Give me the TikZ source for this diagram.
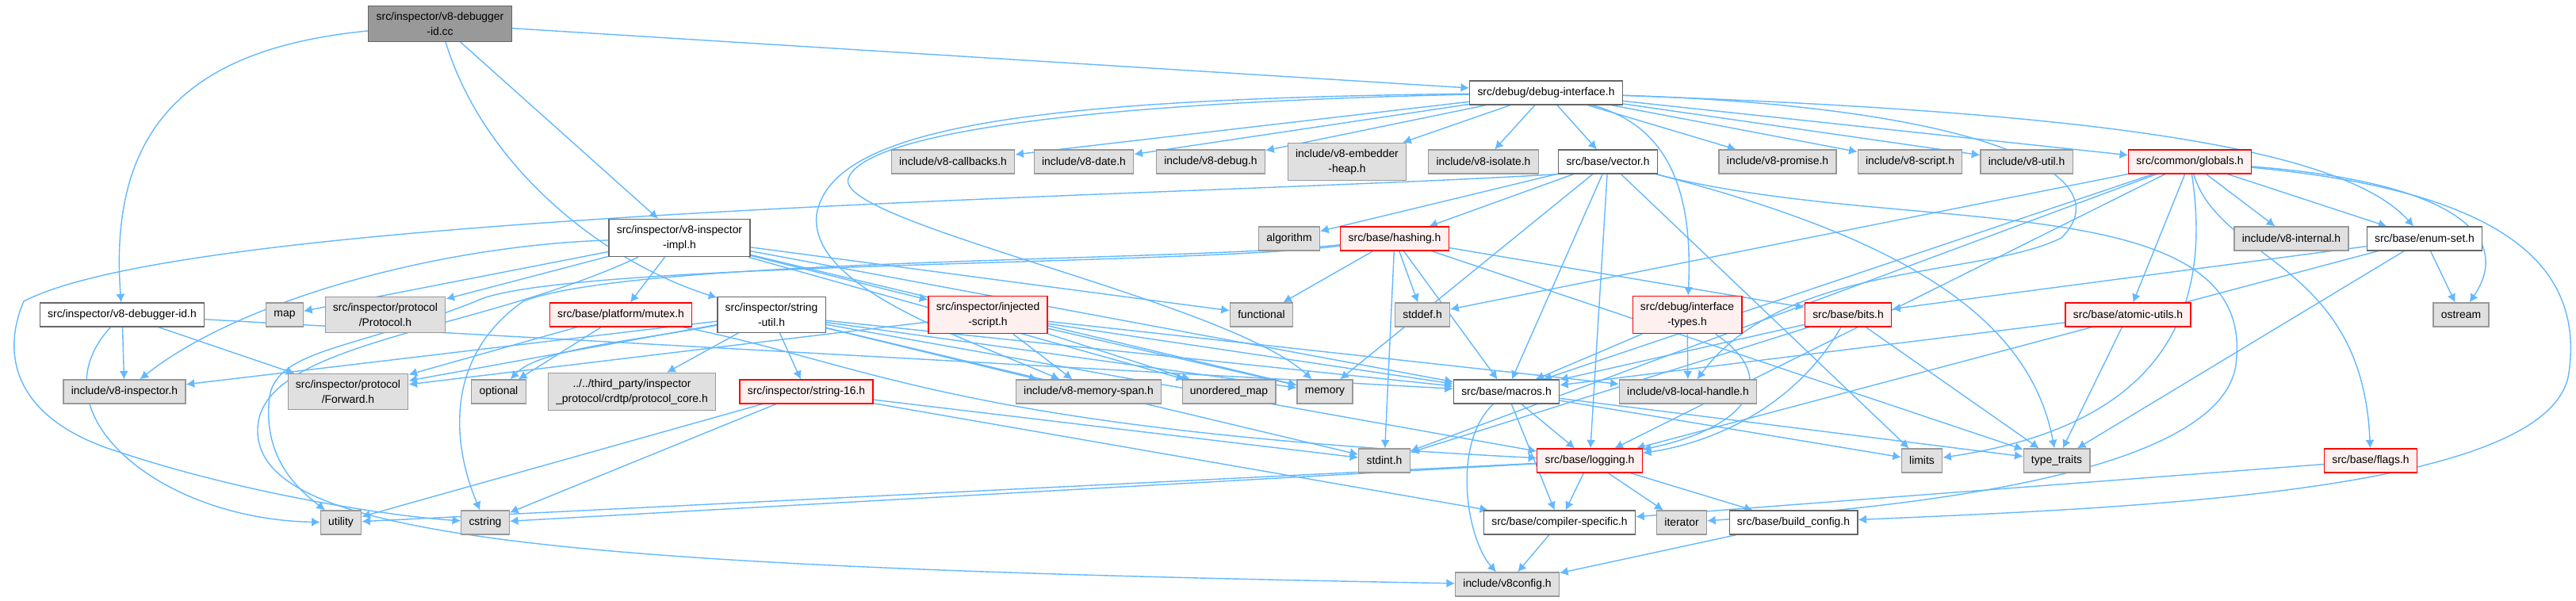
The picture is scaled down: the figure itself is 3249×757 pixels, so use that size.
\documentclass[tikz,border=0pt]{standalone}
\usepackage{fontspec}
\setmainfont{Liberation Sans}
\usetikzlibrary{arrows.meta}
\definecolor{edgeblue}{HTML}{63B8FF}
\definecolor{sysfill}{HTML}{E0E0E0}
\definecolor{sysline}{HTML}{999999}
\definecolor{fileline}{HTML}{666666}
\definecolor{truncfill}{HTML}{FFF0F0}
\pgfdeclarelayer{bg}
\pgfsetlayers{bg,main}
\tikzset{
  box/.style={draw, line width=0.35pt, align=center, minimum height=0.3cm,
    inner xsep=2.8pt, inner ysep=2.2pt, font=\fontsize{3.95}{5.4}\selectfont},
  sysbox/.style={box, draw=sysline, fill=sysfill},
  filebox/.style={box, draw=fileline, fill=white},
  truncbox/.style={box, draw=red, fill=truncfill},
  rootbox/.style={box, draw=fileline, fill=sysline},
  dep/.style={draw=edgeblue, line width=0.4pt, -{Latex[length=3pt,width=3.2pt]}}
}
\begin{document}
\begin{tikzpicture}[x=0.01cm, y=-0.01cm]
\useasboundingbox (0,0) rectangle (3249,757);
% rows, top to bottom
\node[rootbox] (root) at (555,30) {src/inspector/v8-debugger\\-id.cc};
\node[filebox] (dbgif) at (1950,117) {src/debug/debug-interface.h};

\node[sysbox] (callbacks) at (1202,204) {include/v8-callbacks.h};
\node[sysbox] (date) at (1367,204) {include/v8-date.h};
\node[sysbox] (v8debug) at (1527,204) {include/v8-debug.h};
\node[sysbox] (embedder) at (1699,204) {include/v8-embedder\\-heap.h};
\node[sysbox] (isolate) at (1871,204) {include/v8-isolate.h};
\node[filebox] (vector) at (2028,204) {src/base/vector.h};
\node[sysbox] (promise) at (2242,204) {include/v8-promise.h};
\node[sysbox] (script) at (2409,204) {include/v8-script.h};
\node[sysbox] (util) at (2556,204) {include/v8-util.h};
\node[truncbox] (globals) at (2762,204) {src/common/globals.h};

\node[filebox] (impl) at (857,300) {src/inspector/v8-inspector\\-impl.h};
\node[sysbox] (algorithm) at (1626,301) {algorithm};
\node[truncbox] (hashing) at (1759,301) {src/base/hashing.h};
\node[sysbox] (internal) at (2890,301) {include/v8-internal.h};
\node[filebox] (enumset) at (3058,301) {src/base/enum-set.h};

\node[filebox] (dbgidh) at (154,397) {src/inspector/v8-debugger-id.h};
\node[sysbox] (map) at (359,397) {map};
\node[sysbox] (protocol) at (486,397) {src/inspector/protocol\\/Protocol.h};
\node[truncbox] (mutex) at (783,397) {src/base/platform/mutex.h};
\node[filebox] (strutil) at (973,397) {src/inspector/string\\-util.h};
\node[truncbox] (injected) at (1246,397) {src/inspector/injected\\-script.h};
\node[sysbox] (functional) at (1591,397) {functional};
\node[sysbox] (stddef) at (1794,397) {stddef.h};
\node[truncbox] (iftypes) at (2128,397) {src/debug/interface\\-types.h};
\node[truncbox] (bits) at (2331,397) {src/base/bits.h};
\node[truncbox] (atomic) at (2684,397) {src/base/atomic-utils.h};
\node[sysbox] (ostream) at (3104,397) {ostream};

\node[sysbox] (v8insp) at (157,494) {include/v8-inspector.h};
\node[sysbox] (forward) at (439,494) {src/inspector/protocol\\/Forward.h};
\node[sysbox] (optional) at (629,494) {optional};
\node[sysbox] (crdtp) at (797,494) {../../third\_party/inspector\\\_protocol/crdtp/protocol\_core.h};
\node[truncbox] (str16) at (1017,494) {src/inspector/string-16.h};
\node[sysbox] (memspan) at (1373,494) {include/v8-memory-span.h};
\node[sysbox] (umap) at (1550,494) {unordered\_map};
\node[sysbox] (memory) at (1671,494) {memory};
\node[filebox] (macros) at (1900,494) {src/base/macros.h};
\node[sysbox] (localh) at (2129,494) {include/v8-local-handle.h};

\node[sysbox] (stdint) at (1746,581) {stdint.h};
\node[truncbox] (logging) at (2005,581) {src/base/logging.h};
\node[sysbox] (limits) at (2424,581) {limits};
\node[sysbox] (typetraits) at (2594,581) {type\_traits};
\node[truncbox] (flags) at (2990,581) {src/base/flags.h};

\node[sysbox] (utility) at (430,659) {utility};
\node[sysbox] (cstring) at (612,659) {cstring};
\node[filebox] (compspec) at (1967,659) {src/base/compiler-specific.h};
\node[sysbox] (iterator) at (2121,659) {iterator};
\node[filebox] (buildcfg) at (2262,659) {src/base/build\_config.h};

\node[sysbox] (v8config) at (1901,737) {include/v8config.h};

\begin{pgfonlayer}{bg}
% v8-debugger-id.cc
\draw[dep] (root) .. controls (250,60) and (135,150) .. (dbgidh);
\draw[dep] (root) -- (dbgif);
\draw[dep] (root) -- (impl);
\draw[dep] (root) .. controls (610,210) and (760,330) .. (strutil);
% v8-debugger-id.h
\draw[dep] (dbgidh) -- (v8insp);
\draw[dep] (dbgidh) -- (forward);
\draw[dep] (dbgidh) .. controls (40,520) and (200,655) .. (utility);
\draw[dep] (dbgidh) -- (macros);
% v8-inspector-impl.h
\draw[dep] (impl) -- (map);
\draw[dep] (impl) -- (protocol);
\draw[dep] (impl) .. controls (550,310) and (300,380) .. (v8insp);
\draw[dep] (impl) -- (mutex);
\draw[dep] (impl) -- (injected);
\draw[dep] (impl) -- (functional);
\draw[dep] (impl) -- (memory);
\draw[dep] (impl) -- (umap);
\draw[dep] (impl) -- (macros);
\draw[dep] (impl) .. controls (600,420) and (330,430) .. (325,540)
  .. controls (320,680) and (700,715) .. (v8config);
% mutex.h
\draw[dep] (mutex) -- (optional);
\draw[dep] (mutex) -- (forward);
\draw[dep] (mutex) .. controls (1100,460) and (1200,540) .. (logging);
% string-util.h
\draw[dep] (strutil) -- (v8insp);
\draw[dep] (strutil) -- (forward);
\draw[dep] (strutil) .. controls (800,430) and (680,440) .. (optional);
\draw[dep] (strutil) -- (crdtp);
\draw[dep] (strutil) -- (str16);
\draw[dep] (strutil) -- (memspan);
\draw[dep] (strutil) -- (memory);
\draw[dep] (strutil) -- (macros);
\draw[dep] (strutil) -- (logging);
\draw[dep] (strutil) -- (stdint);
% string-16.h
\draw[dep] (str16) -- (utility);
\draw[dep] (str16) -- (cstring);
\draw[dep] (str16) -- (stdint);
\draw[dep] (str16) -- (compspec);
% injected-script.h
\draw[dep] (injected) -- (forward);
\draw[dep] (injected) -- (memspan);
\draw[dep] (injected) -- (umap);
\draw[dep] (injected) -- (memory);
\draw[dep] (injected) -- (macros);
\draw[dep] (injected) -- (localh);
% debug-interface.h
\draw[dep] (dbgif) -- (callbacks);
\draw[dep] (dbgif) -- (date);
\draw[dep] (dbgif) -- (v8debug);
\draw[dep] (dbgif) -- (embedder);
\draw[dep] (dbgif) -- (isolate);
\draw[dep] (dbgif) -- (vector);
\draw[dep] (dbgif) -- (promise);
\draw[dep] (dbgif) -- (script);
\draw[dep] (dbgif) -- (util);
\draw[dep] (dbgif) -- (globals);
\draw[dep] (dbgif) .. controls (2600,140) and (2950,180) .. (enumset);
\draw[dep] (dbgif) .. controls (2110,160) and (2135,250) .. (iftypes);
\draw[dep] (dbgif) .. controls (1300,125) and (1050,160) .. (1030,270)
  .. controls (1020,360) and (1200,420) .. (memspan);
\draw[dep] (dbgif) .. controls (1350,130) and (1090,170) .. (1070,225)
  .. controls (1050,280) and (1550,380) .. (memory);
\draw[dep] (dbgif) .. controls (2500,135) and (2680,220) .. (2600,300)
  .. controls (2500,350) and (2250,330) .. (localh);
% vector.h
\draw[dep] (vector) -- (algorithm);
\draw[dep] (vector) -- (hashing);
\draw[dep] (vector) -- (memory);
\draw[dep] (vector) -- (macros);
\draw[dep] (vector) -- (logging);
\draw[dep] (vector) -- (limits);
\draw[dep] (vector) .. controls (2400,300) and (2560,400) .. (typetraits);
\draw[dep] (vector.south west) .. controls (1500,248) and (250,265) .. (30,380)
  .. controls (0,450) and (20,530) .. (150,570)
  .. controls (300,620) and (480,650) .. (cstring);
\draw[dep] (vector) .. controls (2400,300) and (2850,230) .. (2820,460)
  .. controls (2800,600) and (2400,640) .. (iterator);
% hashing.h
\draw[dep] (hashing) -- (functional);
\draw[dep] (hashing) -- (stddef);
\draw[dep] (hashing) -- (stdint);
\draw[dep] (hashing) -- (macros);
\draw[dep] (hashing) -- (bits);
\draw[dep] (hashing) -- (typetraits);
\draw[dep] (hashing) .. controls (1500,330) and (800,325) .. (660,380)
  .. controls (560,450) and (570,560) .. (cstring);
\draw[dep] (hashing) .. controls (1500,335) and (700,330) .. (600,380)
  .. controls (450,440) and (350,440) .. (340,500)
  .. controls (330,580) and (380,620) .. (utility);
% globals.h
\draw[dep] (globals) -- (internal);
\draw[dep] (globals) -- (enumset);
\draw[dep] (globals) -- (atomic);
\draw[dep] (globals) -- (logging);
\draw[dep] (globals) -- (macros);
\draw[dep] (globals) -- (stddef);
\draw[dep] (globals) -- (stdint);
\draw[dep] (globals) .. controls (2800,330) and (2980,330) .. (flags);
\draw[dep] (globals) .. controls (3100,230) and (3170,300) .. (ostream);
\draw[dep] (globals) .. controls (2795,420) and (2700,540) .. (limits);
\draw[dep] (globals) .. controls (3150,240) and (3260,330) .. (3240,470)
  .. controls (3220,620) and (2700,640) .. (buildcfg);
% enum-set.h
\draw[dep] (enumset) -- (bits);
\draw[dep] (enumset) -- (logging);
\draw[dep] (enumset) -- (typetraits);
\draw[dep] (enumset) -- (ostream);
% interface-types.h
\draw[dep] (iftypes) -- (macros);
\draw[dep] (iftypes) -- (localh);
\draw[dep] (iftypes) .. controls (2250,480) and (2200,540) .. (logging);
% bits.h
\draw[dep] (bits) -- (macros);
\draw[dep] (bits) -- (stdint);
\draw[dep] (bits) -- (typetraits);
\draw[dep] (bits) .. controls (2260,520) and (2150,560) .. (logging);
% atomic-utils.h
\draw[dep] (atomic) -- (macros);
\draw[dep] (atomic) -- (typetraits);
% macros.h
\draw[dep] (macros) -- (logging);
\draw[dep] (macros) -- (compspec);
\draw[dep] (macros) -- (limits);
\draw[dep] (macros) -- (typetraits);
\draw[dep] (macros) .. controls (1830,560) and (1850,680) .. (v8config);
% logging.h
\draw[dep] (logging) -- (compspec);
\draw[dep] (logging) -- (iterator);
\draw[dep] (logging) -- (buildcfg);
\draw[dep] (logging) -- (utility);
\draw[dep] (logging) -- (cstring);
% flags.h and the last row
\draw[dep] (flags) -- (compspec);
\draw[dep] (compspec) -- (v8config);
\draw[dep] (buildcfg) -- (v8config);
\end{pgfonlayer}
\end{tikzpicture}
\end{document}
